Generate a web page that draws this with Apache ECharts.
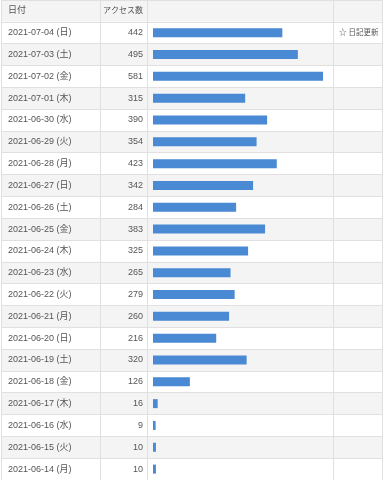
<!DOCTYPE html>
<html>
<head>
<meta charset="utf-8">
<script src="https://cdn.jsdelivr.net/npm/echarts@6/dist/echarts.min.js"></script>
<style>html,body{margin:0;padding:0;background:#fff;}#c{width:390px;height:480px;}</style>
</head>
<body>
<div id="c"></div>
<script>
var headerDate = '日付';
var headerCount = 'アクセス数';
var dates = ['2021-07-04 (日)','2021-07-03 (土)','2021-07-02 (金)','2021-07-01 (木)','2021-06-30 (水)','2021-06-29 (火)','2021-06-28 (月)','2021-06-27 (日)','2021-06-26 (土)','2021-06-25 (金)','2021-06-24 (木)','2021-06-23 (水)','2021-06-22 (火)','2021-06-21 (月)','2021-06-20 (日)','2021-06-19 (土)','2021-06-18 (金)','2021-06-17 (木)','2021-06-16 (水)','2021-06-15 (火)','2021-06-14 (月)'];
var counts = [442,495,581,315,390,354,423,342,284,383,325,265,279,260,216,320,126,16,9,10,10];
var notes = ['☆ 日記更新','','','','','','','','','','','','','','','','','','','',''];

var FONT = '"Liberation Sans", "Noto Sans CJK JP", sans-serif';
var TXT = '#555';
var LINE = '#e0e0e0';
var cats = [headerDate].concat(dates);
var top0 = 0, H = 22 * 21.86;

function grid(left, width) {
  return {left: left, top: top0, width: width, height: H, show: false, containLabel: false};
}
function yAx(gi, labelFn, margin, showSplit, fs) {
  return {
    type: 'category', gridIndex: gi, inverse: true, data: cats, boundaryGap: true,
    axisLine: {show: false}, axisTick: {show: false},
    splitLine: {show: showSplit, interval: 0, lineStyle: {color: LINE, width: 1}},
    splitArea: {show: showSplit, interval: 0, areaStyle: {color: ['#f4f4f4', '#ffffff']}},
    axisLabel: {show: !!labelFn, inside: true, interval: 0, margin: margin, color: TXT, fontSize: fs || 9, fontFamily: FONT, align: 'left',
      formatter: labelFn || function(){return '';}}
  };
}
function xAx(gi, max, lines) {
  return {type: 'value', gridIndex: gi, min: 0, max: max, interval: max, z: 5,
    axisLine: {show: false}, axisTick: {show: false}, axisLabel: {show: false},
    splitLine: {show: lines, showMinLine: true, showMaxLine: true, lineStyle: {color: LINE, width: 1}}};
}

var chart = echarts.init(document.getElementById('c'), null, {renderer: 'canvas'});
chart.setOption({
  animation: false,
  backgroundColor: '#fff',
  grid: [grid(1, 99), grid(100, 47), grid(147, 186), grid(333, 49), grid(153, 170)],
  xAxis: [xAx(0, 1, true), xAx(1, 1, true), xAx(2, 1, true), xAx(3, 1, true), xAx(4, 581, false)],
  yAxis: [
    yAx(0, function(v){ return v; }, 7, true),
    yAx(1, function(v, i){ return i === 0 ? headerCount : ''; }, 3, true, 8),
    yAx(2, null, 0, true),
    yAx(3, function(v, i){ return i === 0 ? '' : notes[i - 1]; }, 6, true, 7.5),
    yAx(4, null, 0, false)
  ],
  series: [{
    type: 'bar', xAxisIndex: 4, yAxisIndex: 4, z: 6,
    data: ['-'].concat(counts),
    barWidth: 9,
    itemStyle: {color: '#4a89d3'},
    label: {show: true, position: [-10, '50%'], align: 'right', verticalAlign: 'middle', color: TXT, fontSize: 9, fontFamily: FONT}
  }]
});
</script>
</body>
</html>
